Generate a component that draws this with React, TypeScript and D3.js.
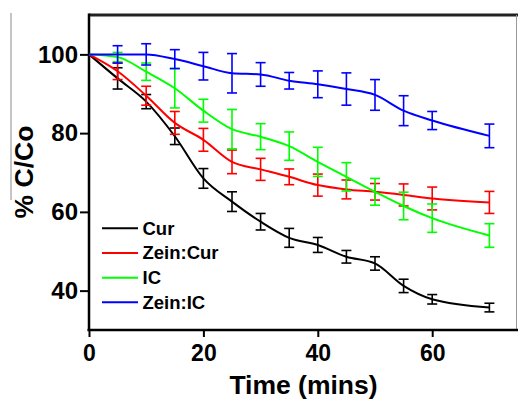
import { useRef, useEffect } from 'react';
import * as d3 from 'd3';

const time = [0, 5, 10, 15, 20, 25, 30, 35, 40, 45, 50, 55, 60, 70];

const cur = [100, 93.9, 88.0, 79.2, 68.5, 62.6, 57.5, 53.4, 51.6, 48.6, 46.9, 41.2, 37.8, 35.7];
const curErr = [0, 2.7, 1.8, 2.1, 2.5, 2.5, 2.1, 2.4, 1.9, 1.6, 1.7, 1.7, 1.2, 1.1];

const zeinCur = [100, 95.7, 89.5, 82.6, 78.3, 72.7, 70.8, 68.9, 66.8, 65.7, 65.1, 64.3, 63.4, 62.4];
const zeinCurErr = [0, 2.1, 2.4, 2.9, 2.9, 3.0, 2.8, 2.0, 2.8, 2.4, 2.1, 2.8, 2.9, 2.8];

const ic = [100, 99.3, 95.6, 91.4, 85.7, 81.0, 79.1, 76.7, 72.7, 68.9, 65.1, 61.5, 58.4, 54.0];
const icErr = [0, 1.2, 2.2, 5.0, 2.9, 5.0, 3.3, 3.6, 3.7, 3.6, 3.4, 3.5, 3.6, 3.0];

const zeinIc = [100, 100, 100, 98.8, 97.0, 95.2, 94.9, 93.3, 92.4, 91.2, 89.7, 85.7, 83.2, 79.3];
const zeinIcErr = [0, 2.2, 2.7, 2.4, 3.5, 5.0, 3.0, 2.1, 3.4, 4.1, 3.9, 3.8, 2.3, 3.0];

const seriesNames = ['Cur', 'Zein:Cur', 'IC', 'Zein:IC'];
const seriesColors = ['#000000', '#ff0000', '#00ff00', '#0000ff'];
const seriesValues = [cur, zeinCur, ic, zeinIc];
const seriesErrors = [curErr, zeinCurErr, icErr, zeinIcErr];

const xMajor = [0, 20, 40, 60];
const xMinor = [10, 30, 50, 70];
const yMajor = [40, 60, 80, 100];
const yMinor = [50, 70, 90];

const W = 518;
const H = 399;
const FONT = '"Liberation Sans", Arial, sans-serif';

export default function App() {
  const svgRef = useRef<SVGSVGElement>(null);

  useEffect(() => {
    const svg = d3.select(svgRef.current);
    svg.selectAll('*').remove();

    const left = 89, right = 518, top = 15, bottom = 330;

    const x = d3.scaleLinear().domain([0, 75]).range([left, right]);
    const y = d3.scaleLinear().domain([30, 110]).range([bottom, top]);

    // stray gray line at far left
    svg.append('line')
      .attr('x1', 11).attr('x2', 11).attr('y1', 13).attr('y2', 200)
      .attr('stroke', '#8a8a8a').attr('stroke-width', 1);

    // frame: thick top, thin gray right
    svg.append('line')
      .attr('x1', left).attr('x2', right).attr('y1', top).attr('y2', top)
      .attr('stroke', '#222').attr('stroke-width', 3);
    svg.append('line')
      .attr('x1', 516.5).attr('x2', 516.5).attr('y1', top).attr('y2', bottom)
      .attr('stroke', '#999').attr('stroke-width', 1);

    // X axis
    const gx = svg.append('g').attr('transform', `translate(0,${bottom})`);
    gx.call(d3.axisBottom(x).tickValues(xMinor).tickSize(5).tickFormat(() => ''));
    gx.call(
      d3.axisBottom(x).tickValues(xMajor).tickSize(7).tickPadding(8).tickFormat(d3.format('d'))
    );
    gx.selectAll('.domain').remove();
    gx.append('line')
      .attr('x1', left - 1.5).attr('x2', right).attr('y1', 0).attr('y2', 0)
      .attr('stroke', '#000').attr('stroke-width', 2.5);
    gx.selectAll('.tick line').attr('stroke', '#000').attr('stroke-width', 2);
    gx.selectAll('.tick text')
      .attr('font-family', FONT).attr('font-size', 23).attr('font-weight', 'bold')
      .attr('fill', '#000');

    // Y axis
    const gy = svg.append('g').attr('transform', `translate(${left},0)`);
    gy.call(d3.axisLeft(y).tickValues(yMinor).tickSize(5).tickFormat(() => ''));
    gy.call(
      d3.axisLeft(y).tickValues(yMajor).tickSize(9).tickPadding(2).tickFormat(d3.format('d'))
    );
    gy.selectAll('.domain').remove();
    gy.append('line')
      .attr('x1', 0).attr('x2', 0).attr('y1', top - 1.5).attr('y2', bottom + 1)
      .attr('stroke', '#000').attr('stroke-width', 2.5);
    gy.selectAll('.tick line').attr('stroke', '#000').attr('stroke-width', 2);
    gy.selectAll('.tick text')
      .attr('font-family', FONT).attr('font-size', 24).attr('font-weight', 'bold')
      .attr('fill', '#000');

    // Axis titles
    svg.append('text')
      .attr('x', (left + right) / 2).attr('y', 394)
      .attr('text-anchor', 'middle')
      .attr('font-family', FONT).attr('font-size', 26.5).attr('font-weight', 'bold')
      .text('Time (mins)');
    svg.append('text')
      .attr('transform', `translate(33,172) rotate(-90)`)
      .attr('text-anchor', 'middle')
      .attr('font-family', FONT).attr('font-size', 26.5).attr('font-weight', 'bold')
      .text('% C/Co');

    // Series
    const line = d3.line<number>()
      .x((_, i) => x(time[i]))
      .y(d => y(d))
      .curve(d3.curveMonotoneX);

    seriesValues.forEach((vals, s) => {
      const g = svg.append('g');
      const color = seriesColors[s];
      g.append('path')
        .datum(vals)
        .attr('d', line)
        .attr('fill', 'none')
        .attr('stroke', color)
        .attr('stroke-width', 2);

      const errs = seriesErrors[s];
      const bars = g.selectAll('g.err')
        .data(vals.map((v, i) => ({ t: time[i], v, e: errs[i] })).filter(d => d.e > 0))
        .join('g')
        .attr('class', 'err')
        .attr('stroke', color)
        .attr('stroke-width', 1.6);
      bars.append('line')
        .attr('x1', d => x(d.t)).attr('x2', d => x(d.t))
        .attr('y1', d => y(d.v + d.e)).attr('y2', d => y(d.v - d.e));
      bars.append('line')
        .attr('x1', d => x(d.t) - 5).attr('x2', d => x(d.t) + 5)
        .attr('y1', d => y(d.v + d.e)).attr('y2', d => y(d.v + d.e));
      bars.append('line')
        .attr('x1', d => x(d.t) - 5).attr('x2', d => x(d.t) + 5)
        .attr('y1', d => y(d.v - d.e)).attr('y2', d => y(d.v - d.e));
    });

    // Legend
    const legendY = d3.scalePoint<string>().domain(seriesNames).range([228.3, 302.3]);
    const lg = svg.append('g');
    seriesNames.forEach((name, s) => {
      const ly = legendY(name) as number;
      lg.append('line')
        .attr('x1', 102).attr('x2', 138).attr('y1', ly).attr('y2', ly)
        .attr('stroke', seriesColors[s]).attr('stroke-width', 2);
      lg.append('text')
        .attr('x', 142.5).attr('y', ly + 6.5)
        .attr('font-family', FONT).attr('font-size', 18.5).attr('font-weight', 'bold')
        .text(name);
    });
  }, []);

  return (
    <svg
      ref={svgRef}
      width={W}
      height={H}
      style={{ position: 'absolute', left: 0, top: 0, background: '#fff' }}
    />
  );
}
